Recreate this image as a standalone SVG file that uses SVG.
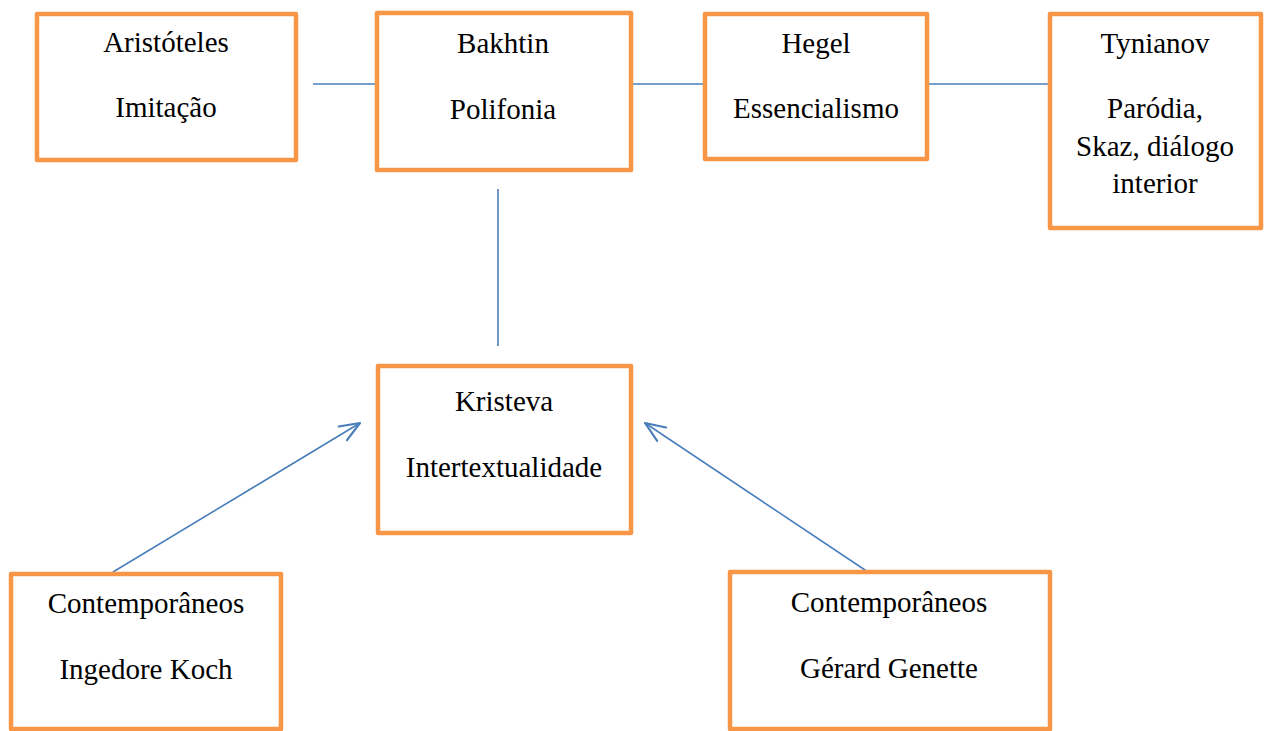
<svg xmlns="http://www.w3.org/2000/svg" width="1268" height="731" viewBox="0 0 1268 731">
<defs>
<style>
.box{fill:#fff;stroke:#F79646;stroke-width:4.5;stroke-linejoin:round}
.t{font-size:29px;fill:#000;text-anchor:middle}
.c{stroke:#4A7EBB;stroke-width:1.6;fill:none}
</style>
<marker id="ah" viewBox="0 0 24 20" refX="22" refY="10" markerWidth="24" markerHeight="20" markerUnits="userSpaceOnUse" orient="auto">
<path d="M2,2 L22,10 L2,18" fill="none" stroke="#4A7EBB" stroke-width="2.2" stroke-linecap="round" stroke-linejoin="round"/>
</marker>
</defs>
<rect width="1268" height="731" fill="#fff"/>
<g id="connectors">
<line class="c" x1="313" y1="84" x2="377" y2="84"/>
<line class="c" x1="631" y1="84" x2="705" y2="84"/>
<line class="c" x1="927" y1="84" x2="1050" y2="84"/>
<line class="c" x1="498" y1="189" x2="498" y2="346"/>
<line class="c" x1="113" y1="572" x2="360" y2="423" marker-end="url(#ah)"/>
<line class="c" x1="868" y1="572" x2="645" y2="423" marker-end="url(#ah)"/>
</g>
<g font-family="Liberation Serif, serif">
<g id="aristoteles">
<rect class="box" x="37" y="14" width="259" height="146"/>
<text class="t" x="166" y="52">Aristóteles</text>
<text class="t" x="166" y="117">Imitação</text>
</g>
<g id="bakhtin">
<rect class="box" x="377" y="13" width="254" height="157"/>
<text class="t" x="503" y="53">Bakhtin</text>
<text class="t" x="503" y="119">Polifonia</text>
</g>
<g id="hegel">
<rect class="box" x="705" y="14" width="222" height="145"/>
<text class="t" x="816" y="53">Hegel</text>
<text class="t" x="816" y="118">Essencialismo</text>
</g>
<g id="tynianov">
<rect class="box" x="1050" y="14" width="211" height="214"/>
<text class="t" x="1155" y="53">Tynianov</text>
<text class="t" x="1155" y="118">Paródia,</text>
<text class="t" x="1155" y="156">Skaz, diálogo</text>
<text class="t" x="1155" y="193">interior</text>
</g>
<g id="kristeva">
<rect class="box" x="378" y="366" width="253" height="167"/>
<text class="t" x="504" y="411">Kristeva</text>
<text class="t" x="504" y="477">Intertextualidade</text>
</g>
<g id="ingedore">
<rect class="box" x="11" y="574" width="270" height="155"/>
<text class="t" x="146" y="613">Contemporâneos</text>
<text class="t" x="146" y="679">Ingedore Koch</text>
</g>
<g id="genette">
<rect class="box" x="730" y="572" width="320" height="157"/>
<text class="t" x="889" y="612">Contemporâneos</text>
<text class="t" x="889" y="678">Gérard Genette</text>
</g>
</g>
</svg>
